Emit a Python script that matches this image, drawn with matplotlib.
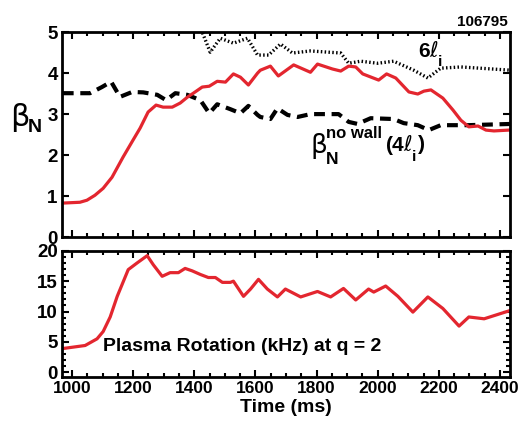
import numpy as np
import matplotlib
matplotlib.use("Agg")
import matplotlib.pyplot as plt
from matplotlib.ticker import MultipleLocator

# beta_N (red)
t_beta = [970, 1026, 1049, 1075, 1102, 1131, 1167, 1200, 1223, 1249, 1275, 1298, 1328, 1354,
          1377, 1397, 1426, 1449, 1475, 1502, 1528, 1551, 1577, 1607, 1616, 1649, 1675, 1725,
          1780, 1803, 1852, 1879, 1905, 1928, 1951, 2003, 2029, 2059, 2102, 2131, 2151, 2174,
          2213, 2246, 2272, 2298, 2328, 2354, 2380, 2429]
beta_n = [0.83, 0.85, 0.90, 1.02, 1.19, 1.46, 1.95, 2.37, 2.66, 3.05, 3.22, 3.17, 3.17, 3.27,
          3.41, 3.51, 3.66, 3.68, 3.80, 3.78, 3.98, 3.90, 3.71, 4.00, 4.07, 4.17, 3.93, 4.20,
          4.02, 4.22, 4.10, 4.05, 4.17, 4.15, 3.98, 3.83, 3.98, 3.88, 3.54, 3.49, 3.56, 3.59,
          3.39, 3.10, 2.85, 2.69, 2.71, 2.61, 2.59, 2.61]

# no-wall limit 4 li (dashed)
t_4li = [970, 1059, 1098, 1128, 1157, 1197, 1233, 1279, 1308, 1338, 1377, 1420, 1449, 1475,
         1518, 1551, 1577, 1607, 1616, 1649, 1672, 1705, 1738, 1780, 1872, 1905, 1934, 1977,
         2052, 2085, 2131, 2167, 2206, 2295, 2436]
li4 = [3.51, 3.51, 3.66, 3.79, 3.42, 3.54, 3.53, 3.47, 3.34, 3.51, 3.47, 3.34, 3.02, 3.24,
       3.12, 3.02, 3.20, 2.98, 2.93, 2.88, 3.14, 2.98, 2.93, 3.00, 3.00, 2.81, 2.76, 2.90,
       2.88, 2.78, 2.73, 2.61, 2.73, 2.73, 2.76]

# 6 li (dotted)
t_6li = [1400, 1426, 1452, 1485, 1528, 1574, 1607, 1643, 1682, 1721, 1780, 1879, 1905, 1944,
         2000, 2052, 2118, 2164, 2206, 2272, 2436]
li6 = [5.4, 5.0, 4.51, 4.85, 4.73, 4.85, 4.44, 4.44, 4.71, 4.49, 4.54, 4.49, 4.24, 4.29,
       4.24, 4.29, 4.07, 3.88, 4.12, 4.15, 4.07]

# plasma rotation at q=2 (kHz)
t_rot = [970, 1043, 1082, 1102, 1125, 1148, 1184, 1213, 1246, 1266, 1295, 1321, 1348, 1370,
         1393, 1420, 1446, 1469, 1492, 1518, 1528, 1561, 1584, 1610, 1639, 1672, 1698, 1748,
         1803, 1846, 1888, 1928, 1970, 1987, 2026, 2066, 2115, 2164, 2213, 2266, 2298, 2348,
         2429]
rot = [3.9, 4.4, 5.5, 6.7, 9.1, 12.5, 16.9, 18.0, 19.2, 17.7, 15.8, 16.4, 16.4, 17.1,
       16.7, 16.1, 15.6, 15.6, 14.8, 14.8, 15.0, 12.5, 13.7, 15.3, 13.7, 12.4, 13.7, 12.4,
       13.3, 12.4, 13.8, 11.9, 13.7, 13.2, 14.2, 12.5, 9.9, 12.4, 10.5, 7.6, 9.1, 8.8,
       10.1]

plt.rcParams['font.family'] = ['Liberation Sans', 'DejaVu Sans']
plt.rcParams['font.weight'] = 'bold'
plt.rcParams['axes.labelweight'] = 'bold'
plt.rcParams['mathtext.fontset'] = 'custom'
plt.rcParams['mathtext.rm'] = 'Liberation Sans:bold'
plt.rcParams['mathtext.bf'] = 'Liberation Sans:bold'
plt.rcParams['mathtext.it'] = 'DejaVu Sans:italic:weight=normal'
plt.rcParams['mathtext.sf'] = 'DejaVu Sans:weight=normal'

red = '#e3262f'
fig = plt.figure(figsize=(5.2, 4.28), dpi=100)
ax1 = fig.add_axes([0.119, 0.446, 0.862, 0.479])
ax2 = fig.add_axes([0.119, 0.119, 0.862, 0.295])


def ftext(px, py, s, **kw):
    # place text by pixel position in the 520x428 figure
    fig.text(px / 520, 1 - py / 428, s, va='center', **kw)


ax1.plot(t_6li, li6, color='black', lw=2.4, ls=(0, (0.45, 0.7)))
ax1.plot(t_4li, li4, color='black', lw=3, ls=(0, (2.6, 1.6)))
ax1.plot(t_beta, beta_n, color=red, lw=2.3)
ax1.set_xlim(967, 2433)
ax1.set_ylim(0, 5)
ax1.set_yticks([0, 1, 2, 3, 4, 5])
ax1.xaxis.set_major_locator(MultipleLocator(200))
ax1.xaxis.set_minor_locator(MultipleLocator(50))
ax1.set_xticklabels([])

# beta_N axis label
ftext(20, 117, r'$\mathsf{\beta}$', fontsize=22, ha='center')
ftext(35, 127, 'N', fontsize=14, ha='center')

ftext(508, 22, '106795', fontsize=11, ha='right')
ftext(418, 51, r'6$\mathit{\ell}$', fontsize=15, ha='left')
ftext(438, 62, 'i', fontsize=11, ha='left')

ftext(319, 146, r'$\mathsf{\beta}$', fontsize=19, ha='center')
ftext(332, 160, 'N', fontsize=12.5, ha='center')
ftext(354, 134, 'no wall', fontsize=12, ha='center')
ftext(385, 145, r'(4$\mathit{\ell}$', fontsize=15, ha='left')
ftext(412, 157, 'i', fontsize=11, ha='left')
ftext(418, 145, ')', fontsize=15, ha='left')

ax2.plot(t_rot, rot, color=red, lw=2.3)
ax2.set_xlim(967, 2433)
ax2.set_ylim(-0.8, 20)
ax2.set_yticks([0, 5, 10, 15, 20])
ax2.yaxis.set_minor_locator(MultipleLocator(1))
ax2.xaxis.set_major_locator(MultipleLocator(200))
ax2.xaxis.set_minor_locator(MultipleLocator(50))
ax2.set_xlabel('Time (ms)', fontsize=14, labelpad=2)
ax2.text(1100, 4.2, 'Plasma Rotation (kHz) at q = 2', fontsize=14, ha='left', va='center')

for ax in (ax1, ax2):
    for s in ax.spines.values():
        s.set_linewidth(2)
    ax.tick_params(which='both', direction='in', top=True, right=True, width=1.5,
                   labelsize=13.5, pad=3)
    ax.tick_params(which='major', length=5)
    ax.tick_params(which='minor', length=3)
ax2.tick_params(axis='x', labelsize=12.5)

fig.savefig('out.png', dpi=100)
